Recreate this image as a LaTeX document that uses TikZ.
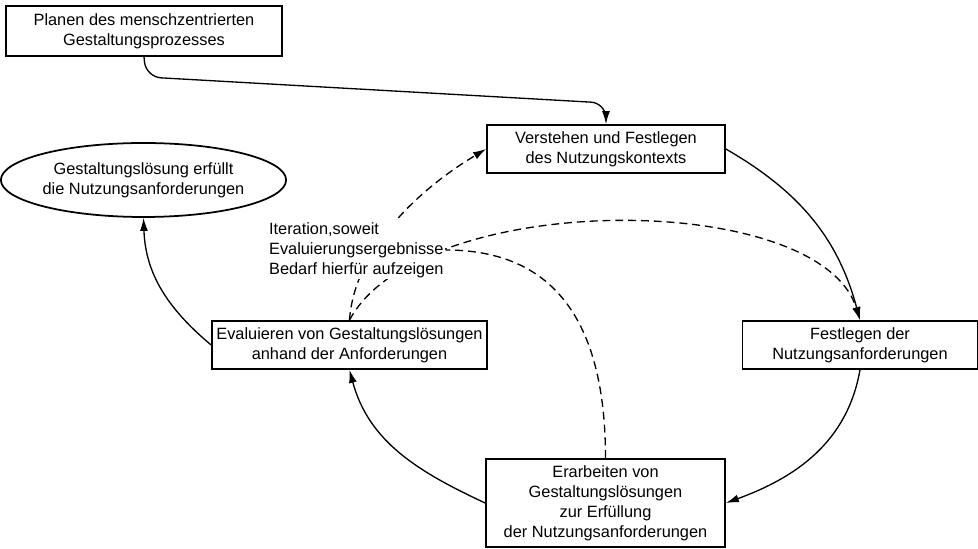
\documentclass[tikz,border=0pt]{standalone}
\usepackage{fontspec}
\setmainfont{Liberation Sans}
\usetikzlibrary{arrows.meta,shapes.geometric}
\begin{document}
\begin{tikzpicture}[
        box/.style = {draw, line width=1pt, align=center, inner sep=0pt},
        flow/.style = {line width=0.75pt, -{Latex[length=2.6mm,width=1.6mm]}},
        iter/.style = {line width=0.75pt, dash pattern=on 4.5pt off 2.8pt},
        font = \fontsize{9.3}{11.4}\selectfont]
      \useasboundingbox (0,0) rectangle (19.56,-10.98);
      \node [box, minimum width=5.52cm, minimum height=1cm] (plan) at (2.88,-0.62) {Planen des menschzentrierten\\Gestaltungsprozesses};
      \node [box, minimum width=4.76cm, minimum height=0.96cm] (verstehen) at (12.12,-2.98) {Verstehen und Festlegen\\des Nutzungskontexts};
      \node [box, ellipse, minimum width=5.5cm, minimum height=1.48cm] (erfuellt) at (2.87,-3.6) {Gestaltungslösung erfüllt\\die Nutzungsanforderungen};
      \node [box, minimum width=5.5cm, minimum height=0.96cm] (evaluieren) at (6.99,-6.9) {Evaluieren von Gestaltungslösungen\\anhand der Anforderungen};
      \node [box, minimum width=4.7cm, minimum height=0.96cm] (festlegen) at (17.2,-6.9) {Festlegen der\\Nutzungsanforderungen};
      \node [box, minimum width=4.78cm, minimum height=1.76cm] (erarbeiten) at (12.11,-10.06) {Erarbeiten von\\Gestaltungslösungen\\zur Erfüllung\\der Nutzungsanforderungen};
      \draw [flow, rounded corners=0.3cm] (plan.south) -- (2.92,-1.54) -- (12.12,-2.06) -- (verstehen.north);
      \draw [flow] (verstehen.east) to [out=-30, in=105] (festlegen.north);
      \draw [flow] (festlegen.south) to [out=-100, in=20] (erarbeiten.east);
      \draw [flow] (erarbeiten.west) to [out=155, in=-75] (evaluieren.south);
      \draw [flow] (evaluieren.west) to [out=140, in=-88] (erfuellt.south);
      \draw [flow, iter] (evaluieren.north) .. controls +(0.1,1.42) and +(-1.34,-0.8) .. (verstehen.west);
      \draw [flow, iter] (evaluieren.north) .. controls +(1.4,2.62) and +(-0.8,2.62) .. (festlegen.north);
      \node [fill=white, align=left, inner sep=1pt, anchor=west] (note) at (5.34,-5.0) {Iteration,soweit\\Evaluierungsergebnisse\\Bedarf hierfür aufzeigen};
      \draw [iter] (erarbeiten.north) .. controls +(0,3.18) and +(1.8,0) .. (note.east);
    \end{tikzpicture}
\end{document}
